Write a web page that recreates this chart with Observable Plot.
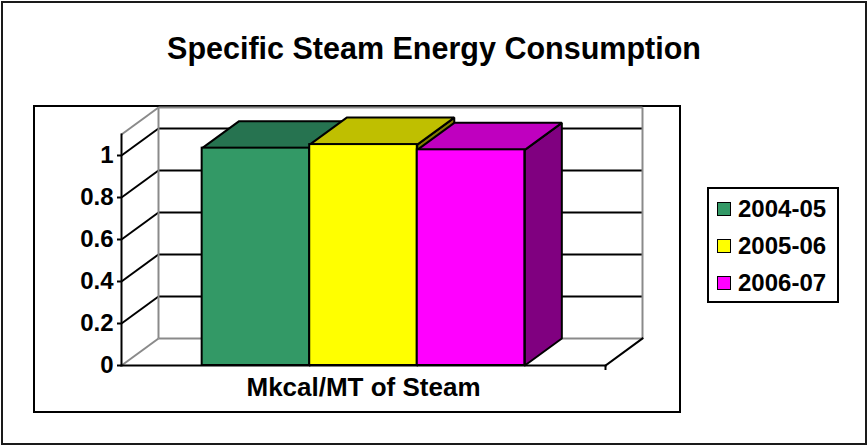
<!DOCTYPE html>
<html><head><meta charset="utf-8">
<script src="https://cdn.jsdelivr.net/npm/d3@7"></script>
<script src="https://cdn.jsdelivr.net/npm/@observablehq/plot@0.6"></script>
<style>
html,body{margin:0;padding:0;background:#fff;}
#wrap{position:relative;width:868px;height:446px;overflow:hidden;font-family:"Liberation Sans",Arial,sans-serif;font-weight:bold;color:#000;background:#fff;}
.outer{position:absolute;left:1px;top:1px;width:862px;height:440px;border:2px solid #1a1a1a;}
.inner{position:absolute;left:33px;top:105px;width:644px;height:304px;border:2px solid #000;}
.title{position:absolute;left:0;top:30px;width:868px;text-align:center;font-size:30.5px;line-height:36px;white-space:nowrap;}
.legend{position:absolute;left:707px;top:187px;width:128px;height:112px;border:2px solid #000;background:#fff;}
.item{position:absolute;left:8px;height:28px;display:flex;align-items:center;font-size:24px;line-height:28px;white-space:nowrap;}
.sw{display:inline-block;width:12px;height:12px;border:1.5px solid #000;margin-right:7px;}
#plot{position:absolute;left:0;top:0;}
</style></head>
<body>
<div id="wrap">
  <div class="outer"></div>
  <div class="inner"></div>
  <div class="title" id="title"></div>
  <div id="plot"></div>
  <div class="legend" id="legend"></div>
</div>
<script>
const title = "Specific Steam Energy Consumption";
const category = "Mkcal/MT of Steam";
const series = ["2004-05", "2005-06", "2006-07"];
const values = [1.035, 1.052, 1.027];
const frontColors = ["#339966", "#FFFF00", "#FF00FF"];
const topColors = ["#267350", "#BFBF00", "#BF00BF"];
const sideColors = ["#1A4D33", "#808000", "#800080"];
const yTicks = [0, 0.2, 0.4, 0.6, 0.8, 1];
const yMax = 1.1;

const GAP = 0.75;          // half gap width (in bar widths)
const DX = 0.344, DY = 0.1286; // 3D depth offset in data units
const x0 = -GAP, x1 = series.length + GAP;
const GRAY = "#8a8a8a";

document.getElementById("title").textContent = title;

const marks = [];
// back wall gridlines
marks.push(Plot.link(yTicks.filter(v => v > 0), {
  x1: x0 + DX, x2: x1 + DX, y1: v => v + DY, y2: v => v + DY, stroke: "#000", strokeWidth: 2
}));
// left wall diagonals
marks.push(Plot.link(yTicks.filter(v => v > 0), {
  x1: x0, y1: v => v, x2: x0 + DX, y2: v => v + DY, stroke: "#000", strokeWidth: 2
}));
// gray frame edges
const grayEdges = [
  [x0 + DX, DY, x1 + DX, DY],
  [x0 + DX, yMax + DY, x1 + DX, yMax + DY],
  [x0 + DX, DY, x0 + DX, yMax + DY],
  [x1 + DX, DY, x1 + DX, yMax + DY],
  [x0, 0, x0 + DX, DY],
  [x0, yMax, x0 + DX, yMax + DY]
];
marks.push(Plot.link(grayEdges, {x1: d => d[0], y1: d => d[1], x2: d => d[2], y2: d => d[3], stroke: GRAY, strokeWidth: 2}));
// black floor edges and front axis
const blackEdges = [
  [x0, 0, x1, 0],
  [x1, 0, x1 + DX, DY],
  [x0, 0, x0, yMax]
];
marks.push(Plot.link(blackEdges, {x1: d => d[0], y1: d => d[1], x2: d => d[2], y2: d => d[3], stroke: "#000", strokeWidth: 2, strokeLinecap: "square"}));

// bars
series.forEach((s, i) => {
  const v = values[i], a = i, b = i + 1;
  const side = [[b, 0], [b + DX, DY], [b + DX, v + DY], [b, v], [b, 0]];
  const top = [[a, v], [b, v], [b + DX, v + DY], [a + DX, v + DY], [a, v]];
  marks.push(Plot.line(side, {x: d => d[0], y: d => d[1], fill: sideColors[i], stroke: "#000", strokeWidth: 2, strokeLinejoin: "miter"}));
  marks.push(Plot.line(top, {x: d => d[0], y: d => d[1], fill: topColors[i], stroke: "#000", strokeWidth: 2, strokeLinejoin: "miter"}));
  marks.push(Plot.rect([i], {x1: d => d, x2: d => d + 1, y1: 0, y2: d => values[d], fill: frontColors[i], stroke: "#000", strokeWidth: 2}));
});

// axes
marks.push(Plot.axisY({ticks: yTicks, tickSize: 4, tickPadding: 4, tickFormat: d => String(d), fontSize: 24, fontWeight: "bold", strokeWidth: 2, label: null}));
marks.push(Plot.axisX({ticks: [series.length / 2], tickSize: 0, tickPadding: 12, tickFormat: () => category, fontSize: 26, fontWeight: "bold", label: null}));
marks.push(Plot.axisX({ticks: [x1], tickSize: 5, tickFormat: () => "", strokeWidth: 2, label: null}));

const chart = Plot.plot({
  width: 868, height: 446,
  marginLeft: 121, marginRight: 263, marginTop: 134, marginBottom: 81,
  x: {domain: [x0, x1]},
  y: {domain: [0, yMax]},
  style: {fontFamily: '"Liberation Sans", Arial, sans-serif', fontWeight: "bold", color: "#000", background: "transparent", overflow: "visible"},
  marks
});
document.getElementById("plot").appendChild(chart);

const legend = document.getElementById("legend");
series.forEach((s, i) => {
  const row = document.createElement("div");
  row.className = "item";
  row.style.top = (6 + i * 37) + "px";
  const sw = document.createElement("span");
  sw.className = "sw";
  sw.style.background = frontColors[i];
  row.appendChild(sw);
  row.appendChild(document.createTextNode(s));
  legend.appendChild(row);
});
</script>
</body></html>
